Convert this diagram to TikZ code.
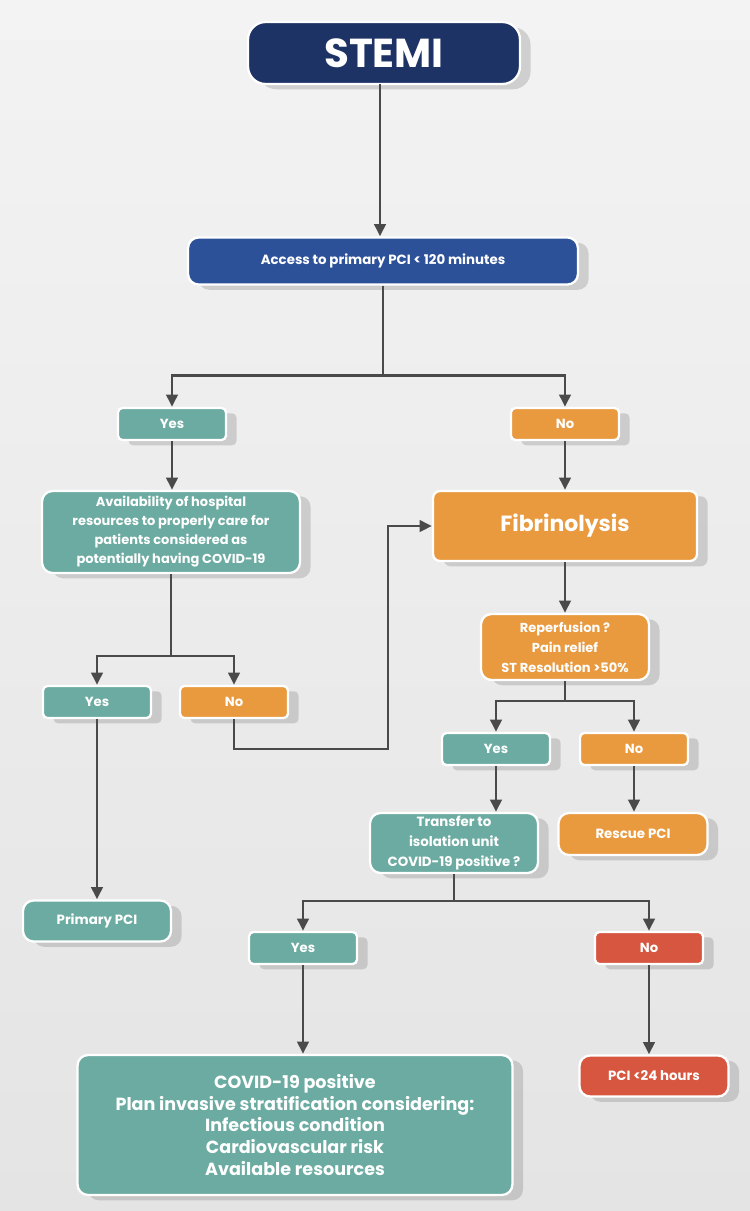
\documentclass[tikz,border=0pt]{standalone}
\usepackage{fontspec}
\setmainfont{Poppins}
\usepackage{tikz}
\usetikzlibrary{arrows.meta, positioning, shadows, calc}
\usepackage{xcolor}
\definecolor{navyblue}{HTML}{1E3365}
\definecolor{accessblue}{HTML}{2D5199}
\definecolor{tealbox}{HTML}{6BABA1}
\definecolor{orangebox}{HTML}{E99A3F}
\definecolor{redbox}{HTML}{D6563F}
\definecolor{arrowgray}{HTML}{4A4A4A}
\definecolor{bgtop}{HTML}{F3F3F3}
\definecolor{bgbottom}{HTML}{E4E4E4}

\tikzset{
  box/.style={draw=white, line width=1.3pt, text=white, align=center,
    inner sep=0pt, font=\bfseries,
    drop shadow={shadow xshift=6pt, shadow yshift=-3pt, opacity=0.3, fill=gray}},
  tag/.style={box, minimum width=2.16cm, minimum height=0.64cm, rounded corners=2.5pt,
    font=\bfseries\fontsize{7.5}{9}\selectfont},
  yestag/.style={tag, fill=tealbox},
  notag/.style={tag, fill=orangebox},
  line/.style={draw=arrowgray, line width=1.5pt, -{Triangle[length=7pt,width=6.5pt]}},
}

\begin{document}
\begin{tikzpicture}[x=0.02cm, y=-0.02cm]
  \useasboundingbox (0,0) rectangle (750,1211);

  % background
  \shade[top color=bgtop, bottom color=bgbottom] (0,0) rectangle (750,1211);

  % top of the chart
  \node[box, fill=navyblue, minimum width=5.44cm, minimum height=1.24cm, rounded corners=10pt,
    font=\bfseries\fontsize{23}{27}\selectfont] (stemi) at (384,53) {STEMI};
  \node[box, fill=accessblue, minimum width=7.8cm, minimum height=0.94cm, rounded corners=6pt,
    font=\bfseries\fontsize{7.6}{9}\selectfont] (access) at (383,261) {Access to primary PCI < 120 minutes};

  % first split
  \node[yestag] (yes1) at (172,424) {Yes};
  \node[notag] (no1) at (565,424) {No};

  % left branch
  \node[box, fill=tealbox, minimum width=5.16cm, minimum height=1.64cm, rounded corners=6pt,
    font=\bfseries\fontsize{7.4}{10.8}\selectfont] (avail) at (171,532)
    {Availability of hospital\\resources to properly care for\\patients considered as\\potentially having COVID-19};
  \node[yestag] (yes2) at (97,702) {Yes};
  \node[notag] (no2) at (234,702) {No};
  \node[box, fill=tealbox, minimum width=2.96cm, minimum height=0.82cm, rounded corners=6pt,
    font=\bfseries\fontsize{7.6}{9}\selectfont] (primary) at (97,921) {Primary PCI};

  % right branch
  \node[box, fill=orangebox, minimum width=5.28cm, minimum height=1.4cm, rounded corners=4pt,
    font=\bfseries\fontsize{12.5}{15}\selectfont] (fib) at (565,526) {Fibrinolysis};
  \node[box, fill=orangebox, minimum width=3.36cm, minimum height=1.32cm, rounded corners=6pt,
    font=\bfseries\fontsize{7.4}{11.3}\selectfont] (reperf) at (565,647)
    {Reperfusion ?\\Pain relief\\ST Resolution >50\%};
  \node[yestag] (yes3) at (496,749) {Yes};
  \node[notag] (no3) at (634,749) {No};
  \node[box, fill=tealbox, minimum width=3.36cm, minimum height=1.2cm, rounded corners=6pt,
    font=\bfseries\fontsize{7.6}{11.3}\selectfont] (transfer) at (454,843)
    {Transfer to\\isolation unit\\COVID-19 positive ?};
  \node[box, fill=orangebox, minimum width=2.98cm, minimum height=0.84cm, rounded corners=6pt,
    font=\bfseries\fontsize{7.6}{9}\selectfont] (rescue) at (633,834) {Rescue PCI};

  % isolation split
  \node[yestag] (yes4) at (303,948) {Yes};
  \node[tag, fill=redbox] (no4) at (649,948) {No};
  \node[box, fill=tealbox, minimum width=8.7cm, minimum height=2.8cm, rounded corners=6pt,
    font=\bfseries\fontsize{10}{12.5}\selectfont] (covid) at (295,1125)
    {COVID-19 positive\\Plan invasive stratification considering:\\Infectious condition\\Cardiovascular risk\\Available resources};
  \node[box, fill=redbox, minimum width=2.98cm, minimum height=0.82cm, rounded corners=6pt,
    font=\bfseries\fontsize{7.6}{9}\selectfont] (pci24) at (654,1076) {PCI <24 hours};

  % connectors
  \coordinate (top) at (380,84);
  \draw[line] (top) -- (top |- access.north);
  \draw[line] (access.south) -- ++(0,90) -| (yes1.north);
  \draw[line] (access.south) -- ++(0,90) -| (no1.north);
  \draw[line] (yes1.south) -- (yes1 |- avail.north);
  \draw[line] (no1.south) -- (no1 |- fib.north);

  \draw[line] (avail.south) -- ++(0,82) -| (yes2.north);
  \draw[line] (avail.south) -- ++(0,82) -| (no2.north);
  \draw[line] (yes2.south) -- (yes2 |- primary.north);
  \coordinate (bend) at (388,749);
  \draw[line] (no2.south) |- (bend) |- (fib.west);

  \draw[line] (fib.south) -- (fib |- reperf.north);
  \draw[line] (reperf.south) -- ++(0,20) -| (yes3.north);
  \draw[line] (reperf.south) -- ++(0,20) -| (no3.north);
  \draw[line] (yes3.south) -- (yes3 |- transfer.north);
  \draw[line] (no3.south) -- (no3 |- rescue.north);

  \draw[line] (transfer.south) -- ++(0,27) -| (yes4.north);
  \draw[line] (transfer.south) -- ++(0,27) -| (no4.north);
  \draw[line] (yes4.south) -- (yes4 |- covid.north);
  \draw[line] (no4.south) -- (no4 |- pci24.north);
\end{tikzpicture}
\end{document}
